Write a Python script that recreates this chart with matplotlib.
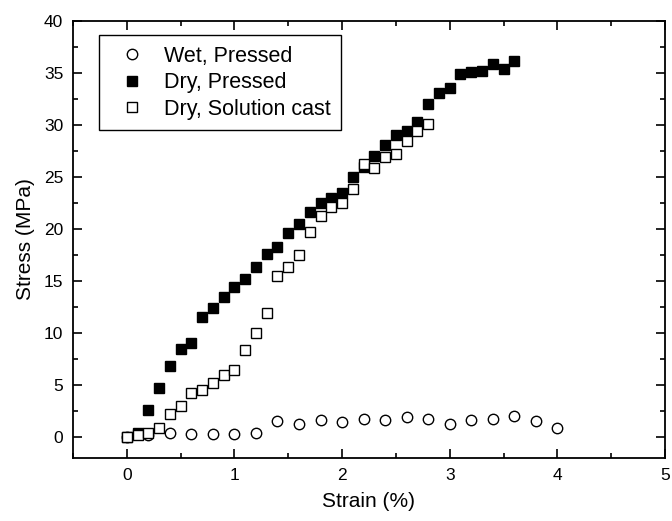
import numpy as np
import matplotlib.pyplot as plt
from matplotlib.ticker import MultipleLocator

plt.rcParams['font.family'] = ['Liberation Sans', 'DejaVu Sans']

# Wet, Pressed
wet_x = [0, 0.2, 0.4, 0.6, 0.8, 1.0, 1.2, 1.4, 1.6, 1.8, 2.0, 2.2, 2.4,
         2.6, 2.8, 3.0, 3.2, 3.4, 3.6, 3.8, 4.0]
wet_y = [0, 0.2, 0.45, 0.3, 0.3, 0.35, 0.4, 1.6, 1.3, 1.7, 1.5, 1.75, 1.7,
         1.9, 1.75, 1.3, 1.65, 1.75, 2.0, 1.6, 0.85]

# Dry, Pressed
dry_x = [0, 0.1, 0.2, 0.3, 0.4, 0.5, 0.6, 0.7, 0.8, 0.9, 1.0, 1.1, 1.2,
         1.3, 1.4, 1.5, 1.6, 1.7, 1.8, 1.9, 2.0, 2.1, 2.2, 2.3, 2.4,
         2.5, 2.6, 2.7, 2.8, 2.9, 3.0, 3.1, 3.2, 3.3, 3.4, 3.5, 3.6]
dry_y = [0, 0.45, 2.6, 4.7, 6.8, 8.5, 9.1, 11.6, 12.4, 13.5, 14.4, 15.2, 16.4,
         17.6, 18.3, 19.6, 20.5, 21.6, 22.5, 23.0, 23.5, 25.0, 26.0, 27.0, 28.1,
         29.0, 29.4, 30.3, 32.0, 33.1, 33.6, 34.9, 35.1, 35.2, 35.9, 35.4, 36.2]

# Dry, Solution cast
cast_x = [0, 0.1, 0.2, 0.3, 0.4, 0.5, 0.6, 0.7, 0.8, 0.9, 1.0, 1.1, 1.2,
          1.3, 1.4, 1.5, 1.6, 1.7, 1.8, 1.9, 2.0, 2.1, 2.2, 2.3, 2.4,
          2.5, 2.6, 2.7, 2.8]
cast_y = [0, 0.2, 0.45, 0.93, 2.2, 3.0, 4.2, 4.5, 5.2, 6.0, 6.5, 8.4, 10.0,
          11.9, 15.5, 16.4, 17.5, 19.7, 21.3, 22.1, 22.5, 23.9, 26.3, 25.9, 26.9,
          27.2, 28.5, 29.4, 30.1]

fig = plt.figure(figsize=(6.72, 5.21), dpi=100)
ax = fig.add_axes([0.1086, 0.1209, 0.881, 0.8388])

ax.plot(wet_x, wet_y, 'o', mfc='white', mec='black', mew=1.0, ms=7.5,
        label='Wet, Pressed', zorder=3)
ax.plot(dry_x, dry_y, 's', mfc='black', mec='black', mew=1.0, ms=7.5,
        label='Dry, Pressed', zorder=3)
ax.plot(cast_x, cast_y, 's', mfc='white', mec='black', mew=1.0, ms=7.5,
        label='Dry, Solution cast', zorder=3)

ax.set_xlim(-0.5, 5)
ax.set_ylim(-2, 40)
ax.xaxis.set_major_locator(MultipleLocator(1))
ax.xaxis.set_minor_locator(MultipleLocator(0.5))
ax.yaxis.set_major_locator(MultipleLocator(5))
ax.yaxis.set_minor_locator(MultipleLocator(2.5))
ax.tick_params(which='both', direction='in', top=True, right=True,
               labelsize=12.5, width=1.2)
ax.tick_params(which='major', length=6.5, pad=7)
ax.tick_params(which='minor', length=3.6)
for s in ax.spines.values():
    s.set_linewidth(1.3)

ax.set_xlabel('Strain (%)', fontsize=15, labelpad=7)
ax.set_ylabel('Stress (MPa)', fontsize=15, labelpad=6)

leg = ax.legend(loc='upper left', bbox_to_anchor=(0.044, 0.968), fontsize=15.5,
                fancybox=False, framealpha=1, edgecolor='black',
                handletextpad=0.4, borderpad=0.5, labelspacing=0.25,
                handlelength=2.1, borderaxespad=0)
leg.get_frame().set_linewidth(1.0)

fig.savefig('out.png', dpi=100)
